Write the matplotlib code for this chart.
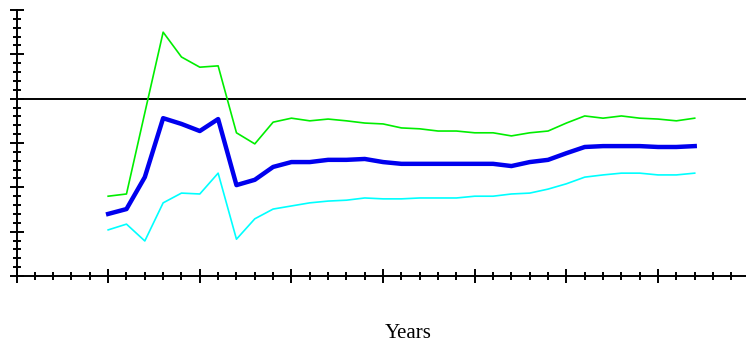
import matplotlib
matplotlib.use("Agg")
from matplotlib import pyplot as plt
from matplotlib.ticker import MultipleLocator, NullFormatter

# values (y axis runs 0..60, no labels shown)
years = list(range(5, 38))

upper = [18.0, 18.5, 36.8, 55.0, 49.4, 47.1, 47.4, 32.3, 29.8, 34.7, 35.6,
         35.0, 35.4, 35.0, 34.5, 34.3, 33.4, 33.2, 32.7, 32.7, 32.3, 32.3,
         31.6, 32.3, 32.7, 34.5, 36.1, 35.6, 36.1, 35.6, 35.4, 35.0, 35.6]

middle = [14.0, 15.1, 22.3, 35.6, 34.3, 32.7, 35.4, 20.5, 21.7, 24.6, 25.7,
          25.7, 26.2, 26.2, 26.4, 25.7, 25.3, 25.3, 25.3, 25.3, 25.3, 25.3,
          24.8, 25.7, 26.2, 27.7, 29.1, 29.3, 29.3, 29.3, 29.1, 29.1, 29.3]

lower = [10.4, 11.7, 7.9, 16.5, 18.7, 18.5, 23.2, 8.3, 12.9, 15.1, 15.8,
         16.5, 16.9, 17.1, 17.6, 17.4, 17.4, 17.6, 17.6, 17.6, 18.0, 18.0,
         18.5, 18.7, 19.6, 20.8, 22.3, 22.8, 23.2, 23.2, 22.8, 22.8, 23.2]

reference_level = 40

fig = plt.figure(figsize=(7.46, 3.47), dpi=100)
ax = fig.add_axes([16.5 / 746, 71 / 347, (746 - 16.5) / 746, 266 / 347])

ax.axhline(reference_level, color="black", linewidth=1.4)
ax.plot(years, upper, color="#00ee00", linewidth=1.2)
ax.plot(years, lower, color="#00ffff", linewidth=1.2)
ax.plot(years, middle, color="#0000ee", linewidth=3.2)

ax.set_xlim(0, (746 - 16.5) / 18.33)
ax.set_ylim(0, 60)

ax.xaxis.set_major_locator(MultipleLocator(5))
ax.xaxis.set_minor_locator(MultipleLocator(1))
ax.yaxis.set_major_locator(MultipleLocator(10))
ax.yaxis.set_minor_locator(MultipleLocator(2))
ax.xaxis.set_major_formatter(NullFormatter())
ax.yaxis.set_major_formatter(NullFormatter())

ax.tick_params(which="major", direction="inout", length=10, width=1.4, color="black")
ax.tick_params(which="minor", direction="inout", length=6, width=1.4, color="black")

for side in ["top", "right"]:
    ax.spines[side].set_visible(False)
for side in ["left", "bottom"]:
    ax.spines[side].set_linewidth(1.4)
ax.patch.set_visible(False)

fig.text(408 / 746, 1 - 333 / 347, "Years", family="Liberation Serif",
         fontsize=15, ha="center", va="center")

fig.savefig("out.png", dpi=100)
